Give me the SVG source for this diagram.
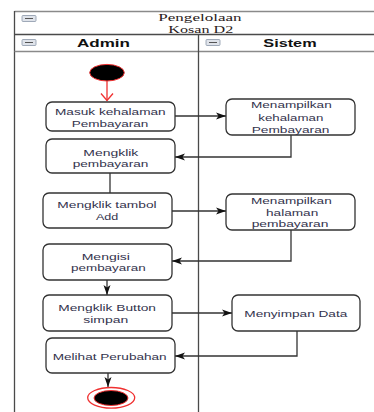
<svg xmlns="http://www.w3.org/2000/svg" width="374" height="412" viewBox="0 0 374 412">
<style>
.frame{stroke:#4a4a4a;stroke-width:1.3;fill:none}
.light{stroke:#8a8a8a;stroke-width:1.3;fill:none}
.box{fill:#fff;stroke:#333;stroke-width:1.3}
.t{font-family:"Liberation Sans",Arial,sans-serif;font-size:9.3px;fill:#33334d}
.h{font-family:"Liberation Sans",Arial,sans-serif;font-size:10.5px;font-weight:bold;fill:#111}
.s{font-family:"Liberation Serif","Times New Roman",serif;font-size:10.5px;fill:#2a1a20}
.c{stroke:#333;stroke-width:1.3;fill:none}
.icon{fill:#dfe3ea;stroke:#8a97a8;stroke-width:0.8}
.iconl{stroke:#555;stroke-width:1}
</style>
<defs>
<marker id="ah" markerUnits="userSpaceOnUse" markerWidth="11" markerHeight="8" refX="10" refY="4" orient="auto">
<path d="M0,0.5 L10,4 L0,7.5 L2.5,4 z" fill="#111"/>
</marker>
<marker id="ahr" markerUnits="userSpaceOnUse" markerWidth="14" markerHeight="14" refX="8" refY="6.5" orient="auto">
<path d="M1,0.5 L8,6.5 L1,12.5" fill="none" stroke="#f03030" stroke-width="1.3"/>
</marker>
</defs>
<rect width="374" height="412" fill="#fff"/>
<g id="frame">
<line class="light" x1="14.5" y1="11.5" x2="374" y2="11.5"/>
<line class="frame" x1="14.5" y1="11" x2="14.5" y2="412"/>
<line class="frame" x1="14.5" y1="34.5" x2="374" y2="34.5"/>
<line class="light" x1="14.5" y1="51.5" x2="374" y2="51.5"/>
<line class="frame" x1="198.5" y1="34.5" x2="198.5" y2="412"/>
<rect class="icon" x="22" y="15.5" width="14" height="6" rx="1"/>
<line class="iconl" x1="25" y1="18.5" x2="33" y2="18.5"/>
<rect class="icon" x="22" y="39.5" width="14" height="6" rx="1"/>
<line class="iconl" x1="25" y1="42.5" x2="33" y2="42.5"/>
<rect class="icon" x="206" y="39.5" width="14" height="6" rx="1"/>
<line class="iconl" x1="209" y1="42.5" x2="217" y2="42.5"/>
<text class="s" x="158.3" y="20.5" textLength="83.3" lengthAdjust="spacingAndGlyphs">Pengelolaan</text>
<text class="s" x="168.3" y="33" textLength="65" lengthAdjust="spacingAndGlyphs">Kosan D2</text>
<text class="h" x="77" y="46.5" textLength="53" lengthAdjust="spacingAndGlyphs">Admin</text>
<text class="h" x="263.3" y="46.5" textLength="53.3" lengthAdjust="spacingAndGlyphs">Sistem</text>
</g>
<g id="connectors">
<line x1="107" y1="81" x2="107" y2="100.5" stroke="#f03030" stroke-width="1.3" marker-end="url(#ahr)"/>
<path class="c" d="M175,116 H226" marker-end="url(#ah)"/>
<path class="c" d="M291,135 V157 H175" marker-end="url(#ah)"/>
<path class="c" d="M110,173 V193"/>
<path class="c" d="M172,211 H226" marker-end="url(#ah)"/>
<path class="c" d="M291,230 V261 H172" marker-end="url(#ah)"/>
<path class="c" d="M107,280 V295" marker-end="url(#ah)"/>
<path class="c" d="M172,313 H232" marker-end="url(#ah)"/>
<path class="c" d="M297,331 V356 H175" marker-end="url(#ah)"/>
<path class="c" d="M108,373 V387" marker-end="url(#ah)"/>
</g>
<g id="start">
<ellipse cx="107" cy="72.7" rx="17.3" ry="8.3" fill="#000" stroke="#f03030" stroke-width="1"/>
</g>
<g id="masuk">
<rect class="box" x="46" y="102" width="129" height="29" rx="6"/>
<text class="t" x="55" y="114.5" textLength="110.7" lengthAdjust="spacingAndGlyphs">Masuk kehalaman</text>
<text class="t" x="71.7" y="126.7" textLength="76.7" lengthAdjust="spacingAndGlyphs">Pembayaran</text>
</g>
<g id="mengklik-pembayaran">
<rect class="box" x="46" y="139" width="129" height="34" rx="6"/>
<text class="t" x="83.3" y="155.7" textLength="55" lengthAdjust="spacingAndGlyphs">Mengklik</text>
<text class="t" x="72.7" y="166.7" textLength="75.7" lengthAdjust="spacingAndGlyphs">pembayaran</text>
</g>
<g id="menampilkan-kehalaman">
<rect class="box" x="226" y="99" width="129" height="36" rx="6"/>
<text class="t" x="251" y="108.3" textLength="80.7" lengthAdjust="spacingAndGlyphs">Menampilkan</text>
<text class="t" x="258.3" y="120.7" textLength="65" lengthAdjust="spacingAndGlyphs">kehalaman</text>
<text class="t" x="251.7" y="132.7" textLength="77.7" lengthAdjust="spacingAndGlyphs">Pembayaran</text>
</g>
<g id="mengklik-tambol">
<rect class="box" x="43" y="193" width="129" height="35" rx="6"/>
<text class="t" x="57.3" y="208.3" textLength="99.3" lengthAdjust="spacingAndGlyphs">Mengklik tambol</text>
<text class="t" x="96" y="220" textLength="22.3" lengthAdjust="spacingAndGlyphs">Add</text>
</g>
<g id="menampilkan-halaman">
<rect class="box" x="226" y="194" width="129" height="36" rx="6"/>
<text class="t" x="251" y="204" textLength="80.7" lengthAdjust="spacingAndGlyphs">Menampilkan</text>
<text class="t" x="266" y="216" textLength="52.3" lengthAdjust="spacingAndGlyphs">halaman</text>
<text class="t" x="251.7" y="227.3" textLength="76.7" lengthAdjust="spacingAndGlyphs">pembayaran</text>
</g>
<g id="mengisi">
<rect class="box" x="43" y="244" width="129" height="36" rx="6"/>
<text class="t" x="81.7" y="260" textLength="48.3" lengthAdjust="spacingAndGlyphs">Mengisi</text>
<text class="t" x="71" y="270.7" textLength="74.7" lengthAdjust="spacingAndGlyphs">pembayaran</text>
</g>
<g id="mengklik-button">
<rect class="box" x="43" y="295" width="129" height="36" rx="6"/>
<text class="t" x="58.3" y="310.7" textLength="97.7" lengthAdjust="spacingAndGlyphs">Mengklik Button</text>
<text class="t" x="83.3" y="323.3" textLength="45" lengthAdjust="spacingAndGlyphs">simpan</text>
</g>
<g id="menyimpan">
<rect class="box" x="232" y="295" width="128" height="36" rx="6"/>
<text class="t" x="244.3" y="316.7" textLength="103" lengthAdjust="spacingAndGlyphs">Menyimpan Data</text>
</g>
<g id="melihat">
<rect class="box" x="46" y="338" width="129" height="35" rx="6"/>
<text class="t" x="52.7" y="360" textLength="114" lengthAdjust="spacingAndGlyphs">Melihat Perubahan</text>
</g>
<g id="end">
<ellipse cx="111.2" cy="397.8" rx="23.5" ry="10.3" fill="#fff" stroke="#f03030" stroke-width="1.3"/>
<ellipse cx="111" cy="398" rx="17" ry="7.5" fill="#000" stroke="#f03030" stroke-width="1"/>
</g>
</svg>
